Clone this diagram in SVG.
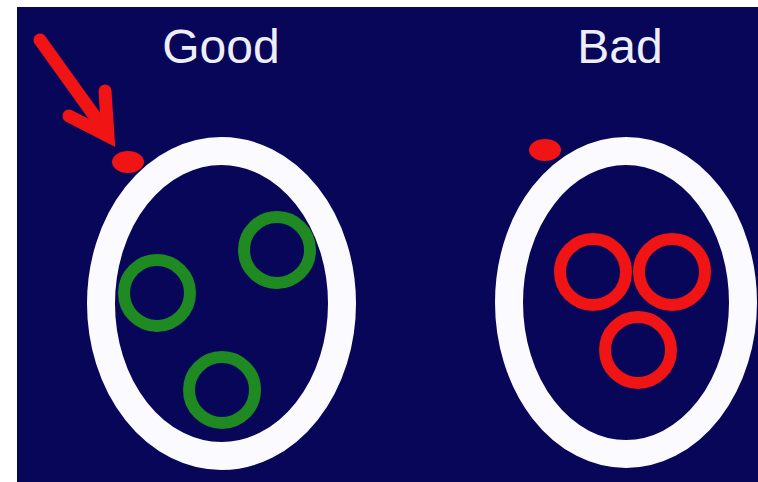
<svg xmlns="http://www.w3.org/2000/svg" width="758" height="482" viewBox="0 0 758 482">
<style>
.ring{fill:none;stroke:#fbfbff;stroke-width:28}
.good{fill:none;stroke:#1f8a22;stroke-width:12}
.bad{fill:none;stroke:#f01414;stroke-width:12}
.dot{fill:#f01414}
.lbl{font-family:"Liberation Sans",Arial,sans-serif;font-size:48px;fill:#eeeefa;text-anchor:middle}
</style>
<rect x="0" y="0" width="758" height="482" fill="#ffffff"/>
<rect x="17" y="7" width="741" height="475" fill="#070659"/>
<g id="good-label"><text class="lbl" x="221" y="63">Good</text></g>
<g id="bad-label"><text class="lbl" x="620" y="63">Bad</text></g>
<g id="good-cell">
<ellipse class="ring" cx="221.5" cy="303.5" rx="120.5" ry="152.5"/>
<circle class="good" cx="157" cy="293" r="33"/>
<circle class="good" cx="277" cy="250" r="33"/>
<circle class="good" cx="222" cy="390" r="33"/>
<ellipse class="dot" cx="128" cy="162" rx="16" ry="11"/>
</g>
<g id="bad-cell">
<ellipse class="ring" cx="626" cy="302.5" rx="117" ry="151.5"/>
<circle class="bad" cx="593" cy="272" r="33"/>
<circle class="bad" cx="672" cy="272" r="33"/>
<circle class="bad" cx="638" cy="350" r="33"/>
<ellipse class="dot" cx="545" cy="150" rx="16" ry="11"/>
</g>
<g id="connectors">
<line x1="40" y1="40" x2="106" y2="132" stroke="#f01414" stroke-width="13" stroke-linecap="round"/>
<polyline points="69,116 108,136 105,91" fill="none" stroke="#f01414" stroke-width="13" stroke-linejoin="miter" stroke-linecap="round"/>
</g>
</svg>
